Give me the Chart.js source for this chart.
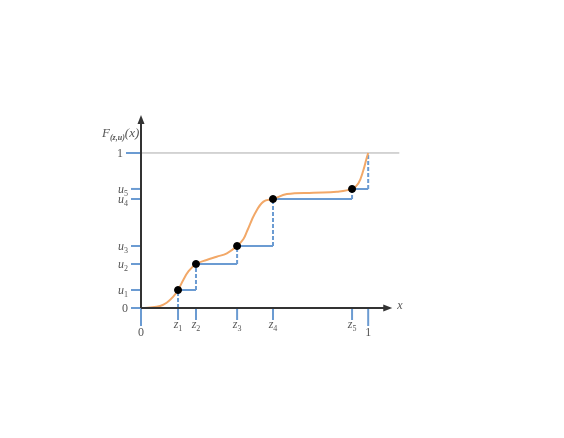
<!DOCTYPE html>
<html>
<head>
<meta charset="utf-8">
<script src="https://cdn.jsdelivr.net/npm/chart.js@4/dist/chart.umd.min.js"></script>
<style>
  html, body { margin: 0; padding: 0; background: #fff; }
  #wrap { width: 564px; height: 438px; }
</style>
</head>
<body>
<div id="wrap"><canvas id="myChart"></canvas></div>
<script>
// sample points z_i and levels u_i
const zVals = [0.163, 0.242, 0.423, 0.581, 0.929];
const uVals = [0.116, 0.284, 0.400, 0.703, 0.768];

// orange smooth cdf
const curveX = [0, 0.040, 0.084, 0.113, 0.142, 0.163, 0.186, 0.208, 0.242, 0.289, 0.333, 0.378, 0.423, 0.451, 0.468, 0.502, 0.539, 0.581, 0.642, 0.759, 0.862, 0.929, 0.957, 0.979, 0.991, 1.0];
const curveY = [0, 0.003, 0.013, 0.034, 0.073, 0.116, 0.181, 0.234, 0.284, 0.310, 0.331, 0.353, 0.400, 0.445, 0.500, 0.611, 0.686, 0.703, 0.735, 0.744, 0.750, 0.768, 0.805, 0.890, 0.955, 1.0];

// tick labels: [base, subscript]
const xTickVals = [0, 0.163, 0.242, 0.423, 0.581, 0.929, 1];
const xTickLabels = [["0", ""], ["z", "1"], ["z", "2"], ["z", "3"], ["z", "4"], ["z", "5"], ["1", ""]];
const yTickVals = [0, 0.116, 0.284, 0.400, 0.703, 0.768, 1];
const yTickLabels = [["0", ""], ["u", "1"], ["u", "2"], ["u", "3"], ["u", "4"], ["u", "5"], ["1", ""]];

const xAxisEnd = 1.106;
const yAxisEnd = 1.245;
const refLineEnd = 1.137;

var blue = "#6b9bd2";
var orange = "#f2a868";

// build step segments (solid horizontals, dashed risers)
var stepData = [];
var riserData = [];
var zAll = [0].concat(zVals).concat([1]);
var uAll = [0].concat(uVals).concat([1]);
for (let i = 0; i < zAll.length - 1; i++) {
  stepData.push({ x: zAll[i], y: uAll[i] });
  stepData.push({ x: zAll[i + 1], y: uAll[i] });
  stepData.push({ x: zAll[i + 1], y: null });
}
for (let i = 1; i < zAll.length; i++) {
  riserData.push({ x: zAll[i], y: uAll[i - 1] });
  riserData.push({ x: zAll[i], y: uAll[i] });
  riserData.push({ x: zAll[i], y: null });
}
var curveData = curveX.map((x, i) => ({ x: x, y: curveY[i] }));
var pointData = zVals.map((z, i) => ({ x: z, y: uVals[i] }));

function drawSub(ctx, base, sub, x, y, align, size) {
  var main = (/[a-z]/.test(base) ? "italic " : "") + size + "px 'Liberation Serif'";
  var small = Math.round(size * 0.7) + "px 'Liberation Serif'";
  ctx.font = main;
  var w1 = ctx.measureText(base).width;
  ctx.font = small;
  var w2 = sub ? ctx.measureText(sub).width : 0;
  var total = w1 + w2;
  var left = x;
  if (align == "center") left = x - total / 2;
  if (align == "right") left = x - total;
  ctx.textAlign = "left";
  ctx.textBaseline = "alphabetic";
  ctx.font = main;
  ctx.fillText(base, left, y);
  if (sub) {
    ctx.font = small;
    ctx.fillText(sub, left + w1, y + 3);
  }
}

// axes, arrows, ticks and labels
const axesPlugin = {
  id: "axesPlugin",
  afterDatasetsDraw(chart) {
    var ctx = chart.ctx;
    var xs = chart.scales.x;
    var ys = chart.scales.y;
    var x0 = xs.getPixelForValue(0);
    var y0 = ys.getPixelForValue(0);
    var xe = xs.getPixelForValue(xAxisEnd);
    var ye = ys.getPixelForValue(yAxisEnd);
    ctx.save();

    // tick marks
    ctx.strokeStyle = blue;
    ctx.lineWidth = 2;
    xTickVals.forEach((v, i) => {
      var px = xs.getPixelForValue(v);
      var len = (i == 0 || i == xTickVals.length - 1) ? 18 : 12;
      ctx.beginPath();
      ctx.moveTo(px, y0);
      ctx.lineTo(px, y0 + len);
      ctx.stroke();
    });
    yTickVals.forEach((v, i) => {
      var py = ys.getPixelForValue(v);
      var len = (i == yTickVals.length - 1) ? 15 : 10;
      ctx.beginPath();
      ctx.moveTo(x0, py);
      ctx.lineTo(x0 - len, py);
      ctx.stroke();
    });

    // axis lines
    ctx.strokeStyle = "#333";
    ctx.fillStyle = "#333";
    ctx.lineWidth = 2;
    ctx.beginPath();
    ctx.moveTo(x0, y0);
    ctx.lineTo(xe - 4, y0);
    ctx.moveTo(x0, y0);
    ctx.lineTo(x0, ye + 4);
    ctx.stroke();
    ctx.beginPath();
    ctx.moveTo(xe, y0);
    ctx.lineTo(xe - 9, y0 - 3.5);
    ctx.lineTo(xe - 9, y0 + 3.5);
    ctx.closePath();
    ctx.fill();
    ctx.beginPath();
    ctx.moveTo(x0, ye);
    ctx.lineTo(x0 - 3.5, ye + 9);
    ctx.lineTo(x0 + 3.5, ye + 9);
    ctx.closePath();
    ctx.fill();

    // labels
    ctx.fillStyle = "#555";
    xTickLabels.forEach((lab, i) => {
      var px = xs.getPixelForValue(xTickVals[i]);
      var off = (i == 0 || i == xTickLabels.length - 1) ? 28 : 20;
      drawSub(ctx, lab[0], lab[1], px, y0 + off, "center", 12);
    });
    yTickLabels.forEach((lab, i) => {
      var py = ys.getPixelForValue(yTickVals[i]);
      var right = (i == yTickLabels.length - 1) ? x0 - 18 : x0 - 13;
      drawSub(ctx, lab[0], lab[1], right, py + 4, "right", 12);
    });
    ctx.font = "italic 12px 'Liberation Serif'";
    ctx.textAlign = "left";
    ctx.textBaseline = "middle";
    ctx.fillText("x", xe + 5, y0 - 2);

    // F_(z,u)(x)
    var tx = x0 - 39;
    var ty = ye + 22;
    ctx.textBaseline = "alphabetic";
    ctx.font = "italic 13px 'Liberation Serif'";
    ctx.fillText("F", tx, ty);
    tx += ctx.measureText("F").width;
    ctx.font = "bold italic 8px 'Liberation Serif'";
    ctx.fillText("(z,u)", tx, ty + 3);
    tx += ctx.measureText("(z,u)").width;
    ctx.font = "italic 13px 'Liberation Serif'";
    ctx.fillText("(x)", tx, ty);
    ctx.restore();
  },
};

new Chart(document.getElementById("myChart"), {
  type: "line",
  data: {
    datasets: [
      {
        data: pointData,
        showLine: false,
        pointRadius: 3.5,
        pointBackgroundColor: "#000",
        pointBorderColor: "#000",
        order: 0,
      },
      {
        data: curveData,
        borderColor: orange,
        borderWidth: 2,
        pointRadius: 0,
        tension: 0.4,
        order: 1,
      },
      {
        data: stepData,
        borderColor: blue,
        borderWidth: 2,
        pointRadius: 0,
        spanGaps: false,
        order: 2,
      },
      {
        data: riserData,
        borderColor: blue,
        borderWidth: 2,
        borderDash: [4, 2],
        pointRadius: 0,
        spanGaps: false,
        order: 3,
      },
      {
        data: [{ x: 0, y: 1 }, { x: refLineEnd, y: 1 }],
        borderColor: "#aaa",
        borderWidth: 1,
        pointRadius: 0,
        clip: false,
        order: 4,
      },
    ],
  },
  options: {
    responsive: true,
    maintainAspectRatio: false,
    animation: false,
    layout: { padding: { left: 141, right: 164, top: 115, bottom: 130 } },
    plugins: { legend: { display: false }, tooltip: { enabled: false } },
    scales: {
      x: { type: "linear", min: 0, max: 1.14, display: false },
      y: { type: "linear", min: 0, max: yAxisEnd, display: false },
    },
  },
  plugins: [axesPlugin],
});
</script>
</body>
</html>
